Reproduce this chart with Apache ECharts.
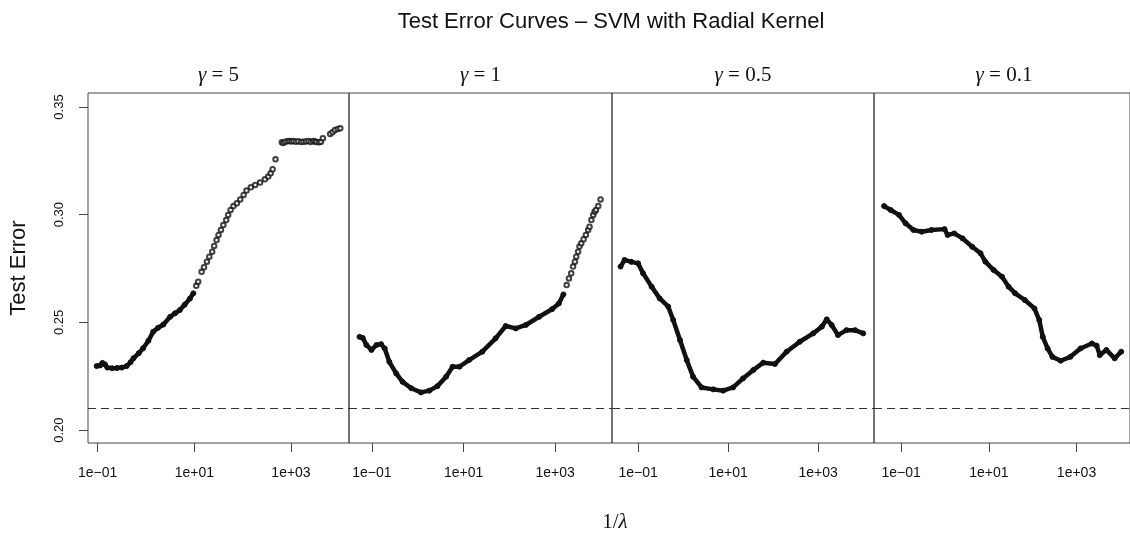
<!DOCTYPE html>
<html>
<head>
<meta charset="utf-8">
<script src="https://cdn.jsdelivr.net/npm/echarts@6/dist/echarts.min.js"></script>
<style>
  html, body { margin: 0; padding: 0; background: #fff; }
  #chart { width: 1130px; height: 533px; }
</style>
</head>
<body>
<div id="chart"></div>
<script>
// x values are log10(1/lambda); tick labels are drawn as 1e-01, 1e+01, 1e+03
const gammas = ["5", "1", "0.5", "0.1"];
const xRanges = [[-1.2, 4.2], [-1.5, 4.24], [-1.58, 4.24], [-1.62, 4.22]];
const xTicks = [-1, 1, 3];
const yTicks = [0.20, 0.25, 0.30, 0.35];
const bayesError = 0.21;

// gamma = 5
const gamma5Line = [
  [-1.02, 0.2297], [-0.95, 0.2300], [-0.90, 0.2312], [-0.85, 0.2305], [-0.80, 0.2290],
  [-0.70, 0.2287], [-0.60, 0.2288], [-0.50, 0.2290], [-0.40, 0.2297], [-0.32, 0.2315],
  [-0.26, 0.2333], [-0.15, 0.2357], [-0.06, 0.2380], [0.05, 0.2415], [0.15, 0.2457],
  [0.25, 0.2475], [0.36, 0.2490], [0.50, 0.2526], [0.60, 0.2542], [0.70, 0.2557],
  [0.80, 0.2582], [0.91, 0.2611], [0.98, 0.2635]
];
const gamma5Dots = [
  [1.04, 0.2670], [1.08, 0.2689], [1.15, 0.2735], [1.20, 0.2756], [1.26, 0.2782],
  [1.31, 0.2805], [1.37, 0.2828], [1.41, 0.2855], [1.46, 0.2882], [1.50, 0.2906],
  [1.55, 0.2929], [1.60, 0.2952], [1.66, 0.2975], [1.70, 0.2999], [1.75, 0.3022],
  [1.81, 0.3040], [1.88, 0.3053], [1.95, 0.3071], [2.02, 0.3092], [2.08, 0.3112],
  [2.17, 0.3127], [2.26, 0.3138], [2.36, 0.3149], [2.46, 0.3164], [2.53, 0.3177],
  [2.58, 0.3192], [2.62, 0.3211], [2.68, 0.3257], [2.81, 0.3336], [2.84, 0.3333],
  [2.88, 0.3339], [2.93, 0.3341], [2.97, 0.3342], [3.01, 0.3340], [3.05, 0.3342],
  [3.10, 0.3339], [3.15, 0.3341], [3.21, 0.3337], [3.26, 0.3339], [3.31, 0.3340],
  [3.36, 0.3342], [3.41, 0.3338], [3.46, 0.3342], [3.50, 0.3340], [3.53, 0.3338],
  [3.58, 0.3336], [3.62, 0.3339], [3.66, 0.3355], [3.81, 0.3375], [3.86, 0.3383],
  [3.91, 0.3393], [3.97, 0.3398], [4.02, 0.3401]
];

// gamma = 1
const gamma1Line = [
  [-1.27, 0.2433], [-1.20, 0.2428], [-1.12, 0.2395], [-1.01, 0.2372], [-0.90, 0.2395],
  [-0.80, 0.2399], [-0.72, 0.2379], [-0.62, 0.2317], [-0.47, 0.2263], [-0.33, 0.2224],
  [-0.14, 0.2194], [0.07, 0.2175], [0.25, 0.2183], [0.43, 0.2204], [0.62, 0.2248],
  [0.76, 0.2294], [0.91, 0.2294], [1.12, 0.2325], [1.41, 0.2364], [1.70, 0.2426],
  [1.92, 0.2483], [2.14, 0.2472], [2.36, 0.2488], [2.65, 0.2526], [2.93, 0.2561],
  [3.08, 0.2588], [3.18, 0.2630]
];
const gamma1Dots = [
  [3.25, 0.2673], [3.30, 0.2704], [3.35, 0.2728], [3.39, 0.2759], [3.43, 0.2782],
  [3.46, 0.2805], [3.50, 0.2828], [3.53, 0.2852], [3.57, 0.2867], [3.62, 0.2886],
  [3.67, 0.2906], [3.72, 0.2929], [3.75, 0.2944], [3.79, 0.2975], [3.83, 0.2999],
  [3.86, 0.3014], [3.89, 0.3022], [3.94, 0.3040], [3.99, 0.3071]
];

// gamma = 0.5
const gamma05Line = [
  [-1.39, 0.2759], [-1.30, 0.2790], [-1.15, 0.2781], [-1.00, 0.2774], [-0.89, 0.2728],
  [-0.70, 0.2666], [-0.52, 0.2611], [-0.33, 0.2573], [-0.22, 0.2511], [-0.07, 0.2418],
  [0.08, 0.2325], [0.22, 0.2248], [0.41, 0.2198], [0.67, 0.2189], [0.89, 0.2183],
  [1.11, 0.2198], [1.33, 0.2240], [1.56, 0.2279], [1.78, 0.2313], [2.04, 0.2307],
  [2.30, 0.2364], [2.59, 0.2410], [2.89, 0.2449], [3.08, 0.2480], [3.19, 0.2514],
  [3.30, 0.2488], [3.44, 0.2441], [3.63, 0.2464], [3.82, 0.2464], [4.00, 0.2449]
];

// gamma = 0.1
const gamma01Line = [
  [-1.39, 0.3040], [-1.24, 0.3022], [-1.05, 0.2999], [-0.90, 0.2960], [-0.72, 0.2929],
  [-0.53, 0.2921], [-0.31, 0.2929], [-0.01, 0.2933], [0.06, 0.2906], [0.21, 0.2913],
  [0.40, 0.2890], [0.62, 0.2851], [0.81, 0.2821], [0.92, 0.2782], [1.11, 0.2743],
  [1.30, 0.2712], [1.45, 0.2666], [1.60, 0.2635], [1.82, 0.2604], [2.04, 0.2565],
  [2.15, 0.2511], [2.23, 0.2433], [2.34, 0.2379], [2.45, 0.2340], [2.64, 0.2322],
  [2.86, 0.2340], [3.09, 0.2379], [3.35, 0.2402], [3.46, 0.2392], [3.53, 0.2348],
  [3.68, 0.2372], [3.87, 0.2333], [4.02, 0.2364]
];

const panels = [
  { line: gamma5Line, dots: gamma5Dots },
  { line: gamma1Line, dots: gamma1Dots },
  { line: gamma05Line, dots: [] },
  { line: gamma01Line, dots: [] }
];

const gridLefts = [88, 349, 612, 874];
const gridWidths = [261, 263, 262, 260];
const INK = "#111";
const SANS = "Liberation Sans, Arial, sans-serif";
const SERIF = "Liberation Serif, Times New Roman, serif";

function expLabel(v) {
  const n = Math.round(v);
  return "1e" + (n < 0 ? "\u2212" : "+") + String(Math.abs(n)).padStart(2, "0");
}

const grid = gridLefts.map((left, i) => ({
  left, width: gridWidths[i], top: 93, height: 350,
  show: true, borderColor: "#444", borderWidth: 1, backgroundColor: "transparent"
}));

const xAxis = xRanges.map((r, i) => ({
  type: "value", gridIndex: i, min: r[0], max: r[1],
  axisLine: { show: false, onZero: false },
  splitLine: { show: false },
  axisTick: { show: true, customValues: xTicks, length: 9, lineStyle: { color: "#444" } },
  axisLabel: {
    customValues: xTicks, formatter: expLabel, margin: 23,
    color: INK, fontFamily: SANS, fontSize: 14
  }
}));

const yAxis = xRanges.map((r, i) => ({
  type: "value", gridIndex: i, min: 0.194, max: 0.3565,
  show: i === 0,
  axisLine: { show: false, onZero: false },
  splitLine: { show: false },
  axisTick: { show: true, customValues: yTicks, length: 9, lineStyle: { color: "#444" } },
  axisLabel: {
    customValues: yTicks, rotate: 90, margin: 22,
    formatter: (v) => v.toFixed(2),
    color: INK, fontFamily: SANS, fontSize: 13
  },
  name: i === 0 ? "Test Error" : "",
  nameLocation: "middle", nameGap: 58, nameRotate: 90,
  nameTextStyle: { color: INK, fontFamily: SANS, fontSize: 22 }
}));

const series = [];
panels.forEach((p, i) => {
  series.push({
    type: "line", xAxisIndex: i, yAxisIndex: i, data: p.line,
    symbol: "circle", symbolSize: 5, showSymbol: true,
    lineStyle: { color: INK, width: 4.5 },
    itemStyle: { color: INK, borderColor: INK, borderWidth: 1 },
    animation: false, silent: true,
    markLine: {
      silent: true, symbol: ["none", "none"], label: { show: false },
      lineStyle: { color: "#333", width: 1, type: [8, 5] },
      data: [{ yAxis: bayesError }]
    }
  });
  if (p.dots.length) {
    series.push({
      type: "scatter", xAxisIndex: i, yAxisIndex: i, data: p.dots,
      symbol: "emptyCircle", symbolSize: 4.5,
      itemStyle: { color: INK, borderColor: INK, borderWidth: 1.5 },
      animation: false, silent: true
    });
  }
});

const graphic = [
  {
    type: "text", x: 611, y: 22,
    style: {
      text: "Test Error Curves \u2013 SVM with Radial Kernel",
      font: "22px " + SANS, fill: INK, align: "center", verticalAlign: "middle"
    }
  },
  {
    type: "text", x: 615, y: 522,
    style: {
      text: "1/{l|\u03bb}", font: "21px " + SERIF, fill: INK,
      align: "center", verticalAlign: "middle",
      rich: { l: { fontFamily: SERIF, fontSize: 21, fontStyle: "italic" } }
    }
  }
].concat(gammas.map((g, i) => ({
  type: "text", x: gridLefts[i] + gridWidths[i] / 2, y: 75,
  style: {
    text: "{g|\u03b3} = " + g, font: "21px " + SERIF, fill: INK,
    align: "center", verticalAlign: "middle",
    rich: { g: { fontFamily: SERIF, fontSize: 21, fontStyle: "italic" } }
  }
})));

const chart = echarts.init(document.getElementById("chart"));
chart.setOption({ animation: false, backgroundColor: "#fff", grid, xAxis, yAxis, series, graphic });
</script>
</body>
</html>
